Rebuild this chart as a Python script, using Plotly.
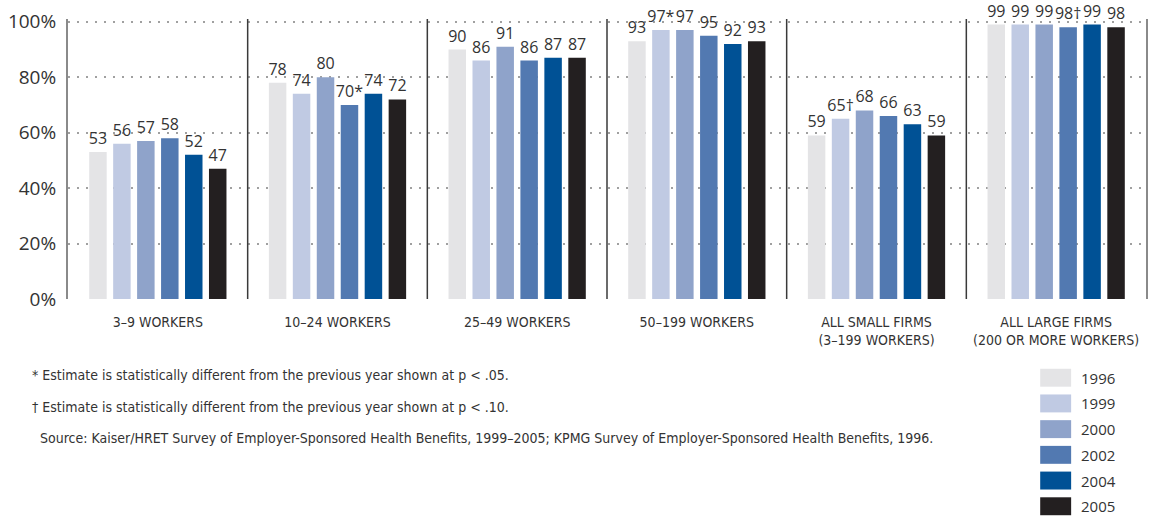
import plotly.graph_objects as go

# Firm-size groups (x categories)
categories = [
    "3–9 WORKERS",
    "10–24 WORKERS",
    "25–49 WORKERS",
    "50–199 WORKERS",
    "ALL SMALL FIRMS<br>(3–199 WORKERS)",
    "ALL LARGE FIRMS<br>(200 OR MORE WORKERS)",
]

years = ["1996", "1999", "2000", "2002", "2004", "2005"]

# Percent of firms offering benefits, one list per survey year
v1996 = [53, 78, 90, 93, 59, 99]
v1999 = [56, 74, 86, 97, 65, 99]
v2000 = [57, 80, 91, 97, 68, 99]
v2002 = [58, 70, 86, 95, 66, 98]
v2004 = [52, 74, 87, 92, 63, 99]
v2005 = [47, 72, 87, 93, 59, 98]

# Significance markers appended to the value labels
m1996 = ["", "", "", "", "", ""]
m1999 = ["", "", "", "*", "†", ""]
m2000 = ["", "", "", "", "", ""]
m2002 = ["", "*", "", "", "", "†"]
m2004 = ["", "", "", "", "", ""]
m2005 = ["", "", "", "", "", ""]

series = [v1996, v1999, v2000, v2002, v2004, v2005]
markers = [m1996, m1999, m2000, m2002, m2004, m2005]
colors = ["#e4e4e6", "#c0cae3", "#8fa3ca", "#5279b1", "#005195", "#231f20"]

y_tickvals = [0, 20, 40, 60, 80, 100]
y_ticktext = ["0%", "20%", "40%", "60%", "80%", "100%"]

footnotes = [
    "* Estimate is statistically different from the previous year shown at p < .05.",
    "† Estimate is statistically different from the previous year shown at p < .10.",
    "Source: Kaiser/HRET Survey of Employer-Sponsored Health Benefits, 1999–2005; KPMG Survey of Employer-Sponsored Health Benefits, 1996.",
]

NARROW = "Liberation Sans Narrow, DejaVu Sans Condensed, Arial Narrow, sans-serif"
TEXT = "#333333"

fig = go.Figure()
for yr, vals, marks, col in zip(years, series, markers, colors):
    fig.add_trace(go.Bar(
        name=yr,
        x=list(range(len(categories))),
        y=vals,
        marker=dict(color=col, line=dict(width=0)),
        text=[f"{v}{m}" for v, m in zip(vals, marks)],
        textposition="outside",
        textfont=dict(family="Open Sans, sans-serif", size=16, color=TEXT),
        constraintext="none",
        cliponaxis=False,
        showlegend=False,
    ))

# Panel separators between firm-size groups
shapes = []
for i in range(len(categories) - 1):
    shapes.append(dict(
        type="line", xref="x", yref="paper",
        x0=i + 0.5, x1=i + 0.5, y0=0, y1=1,
        line=dict(color="#3a3a3a", width=1.5),
    ))

# Hand-built legend: swatches and year labels
annotations = []
L_PX0, L_PX1 = 1042, 1073
PLOT_L, PLOT_R, PLOT_T, PLOT_B = 68, 1148, 18, 299
pw, ph = PLOT_R - PLOT_L, PLOT_B - PLOT_T


def px_x(p):
    return (p - PLOT_L) / pw


def px_y(p):
    return (PLOT_B - p) / ph


for k, (yr, col) in enumerate(zip(years, colors)):
    cy = 378 + k * 25.8
    shapes.append(dict(
        type="rect", xref="paper", yref="paper",
        x0=px_x(L_PX0), x1=px_x(L_PX1),
        y0=px_y(cy + 9), y1=px_y(cy - 9),
        fillcolor=col, line=dict(width=0),
    ))
    annotations.append(dict(
        xref="paper", yref="paper", x=px_x(1081), y=px_y(cy),
        text=yr, showarrow=False, xanchor="left", yanchor="middle",
        font=dict(family="Open Sans, sans-serif", size=15, color=TEXT),
    ))

foot_pos = [(30, 375), (30, 407), (38, 438)]
for txt, (fx, fy) in zip(footnotes, foot_pos):
    annotations.append(dict(
        xref="paper", yref="paper", x=px_x(fx), y=px_y(fy),
        text=txt, showarrow=False, xanchor="left", yanchor="middle",
        font=dict(family=NARROW, size=14, color=TEXT),
    ))

fig.update_layout(
    width=1156, height=518,
    margin=dict(l=PLOT_L, r=1156 - PLOT_R, t=PLOT_T, b=518 - PLOT_B),
    paper_bgcolor="white", plot_bgcolor="white",
    barmode="group", bargap=0.2, bargroupgap=0.27,
    shapes=shapes, annotations=annotations,
    xaxis=dict(
        range=[-0.5, len(categories) - 0.5],
        tickvals=list(range(len(categories))), ticktext=categories,
        tickfont=dict(family=NARROW, size=14, color=TEXT),
        ticks="outside", ticklen=10, tickcolor="rgba(0,0,0,0)",
        showgrid=False, zeroline=False, showline=False,
    ),
    yaxis=dict(
        range=[0, 101],
        tickvals=y_tickvals, ticktext=y_ticktext,
        tickfont=dict(family="Open Sans, sans-serif", size=19, color=TEXT),
        showgrid=True, gridcolor="#a0a0a0", gridwidth=2, griddash="2px,7px",
        zeroline=False,
        showline=True, linecolor="#8a8a8a", linewidth=2, mirror=True,
        ticks="", ticklabelstandoff=6,
    ),
)

fig.write_html("out.html")
